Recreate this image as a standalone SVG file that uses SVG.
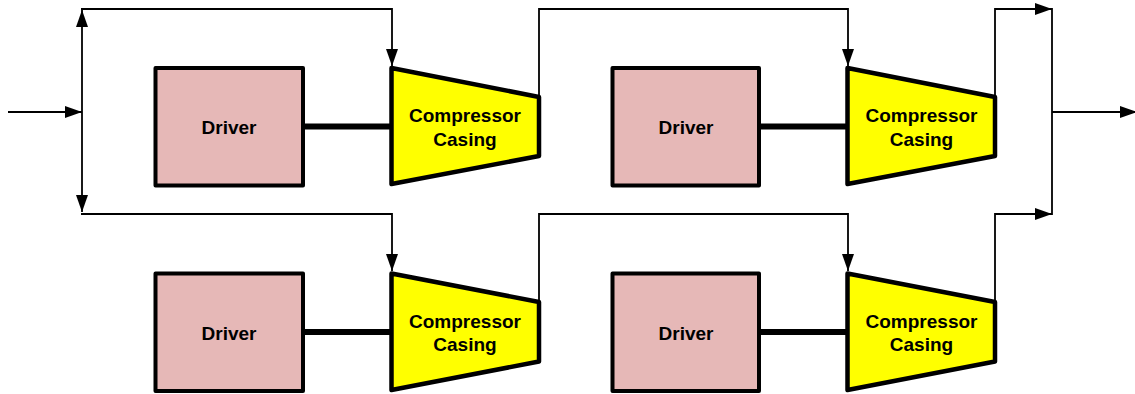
<svg xmlns="http://www.w3.org/2000/svg" width="1135" height="394" viewBox="0 0 1135 394">
<style>
.drv{fill:#E6B8B7;stroke:#000;stroke-width:4;stroke-linejoin:round}
.cmp{fill:#FFFF00;stroke:#000;stroke-width:4.5;stroke-linejoin:round}
.shaft{stroke:#000;stroke-width:6;fill:none}
.ln{stroke:#000;stroke-width:1.8;fill:none}
.t{font-family:"Liberation Sans",Arial,Helvetica,sans-serif;font-weight:bold;font-size:19px;fill:#000;text-anchor:middle}
</style>
<defs>
<marker id="arr" markerUnits="userSpaceOnUse" markerWidth="18" markerHeight="12" viewBox="0 0 17 12" refX="17" refY="6" orient="auto">
<path d="M0,0 L17,6 L0,12 z" fill="#000"/>
</marker>
</defs>
<g id="connectors">
<path class="ln" d="M8,112 H82" marker-end="url(#arr)"/>
<path class="ln" d="M82,112 V10" marker-end="url(#arr)"/>
<path class="ln" d="M82,112 V212" marker-end="url(#arr)"/>
<path class="ln" d="M81,9 H392 V66" marker-end="url(#arr)"/>
<path class="ln" d="M81,214 H392 V271" marker-end="url(#arr)"/>
<path class="ln" d="M539,97 V9 H848 V66" marker-end="url(#arr)"/>
<path class="ln" d="M539,302 V214 H848 V271" marker-end="url(#arr)"/>
<path class="ln" d="M995,97 V9 H1052" marker-end="url(#arr)"/>
<path class="ln" d="M995,302 V214 H1052" marker-end="url(#arr)"/>
<path class="ln" d="M1052,8 V215"/>
<path class="ln" d="M1052,112 H1137" marker-end="url(#arr)"/>
<path class="shaft" d="M303,126.5 H392"/>
<path class="shaft" d="M759,126.5 H848"/>
<path class="shaft" d="M303,332 H392"/>
<path class="shaft" d="M759,332 H848"/>
</g>
<g id="driver1">
<rect class="drv" x="155.5" y="68" width="147.5" height="117.5"/>
<text class="t" x="229" y="134">Driver</text>
</g>
<g id="compressor1">
<polygon class="cmp" points="391.5,68 539,97 539,156 391.5,184"/>
<text class="t" x="465" y="121.5">Compressor</text>
<text class="t" x="465" y="145.5">Casing</text>
</g>
<g id="driver2">
<rect class="drv" x="612.5" y="68" width="146.5" height="117.5"/>
<text class="t" x="686" y="134">Driver</text>
</g>
<g id="compressor2">
<polygon class="cmp" points="847.5,68 995,97 995,156 847.5,184"/>
<text class="t" x="921.5" y="121.5">Compressor</text>
<text class="t" x="921.5" y="145.5">Casing</text>
</g>
<g id="driver3">
<rect class="drv" x="155.5" y="273.5" width="147.5" height="117.5"/>
<text class="t" x="229" y="339.5">Driver</text>
</g>
<g id="compressor3">
<polygon class="cmp" points="391.5,273.5 539,302 539,361.5 391.5,390"/>
<text class="t" x="465" y="328">Compressor</text>
<text class="t" x="465" y="351">Casing</text>
</g>
<g id="driver4">
<rect class="drv" x="612.5" y="273.5" width="146.5" height="117.5"/>
<text class="t" x="686" y="339.5">Driver</text>
</g>
<g id="compressor4">
<polygon class="cmp" points="847.5,273.5 995,302 995,361.5 847.5,390"/>
<text class="t" x="921.5" y="328">Compressor</text>
<text class="t" x="921.5" y="351">Casing</text>
</g>
</svg>
